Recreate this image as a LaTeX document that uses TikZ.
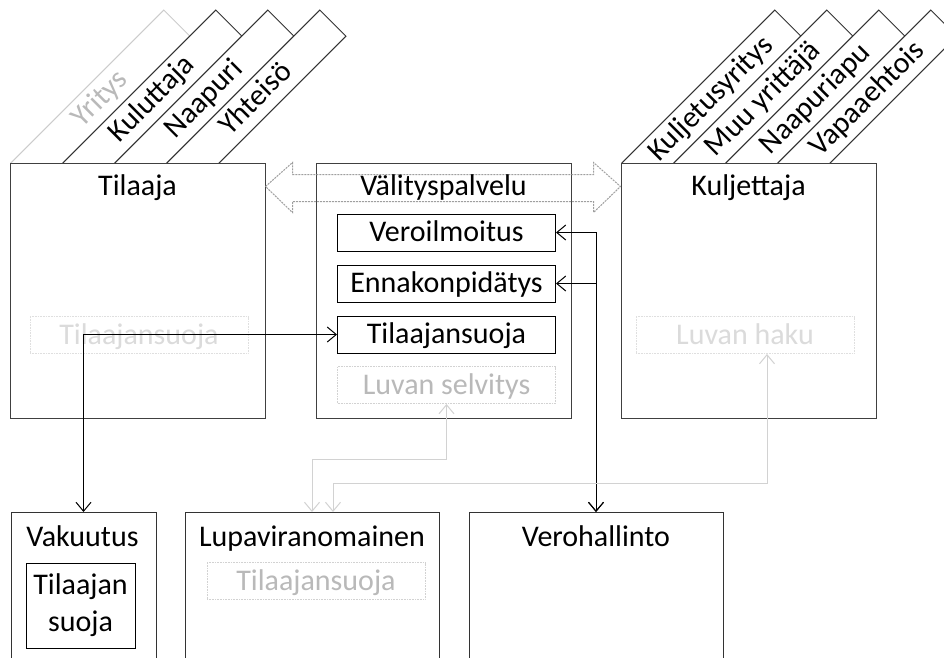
\documentclass[tikz,border=0pt]{standalone}
\usepackage{fontspec}
\setmainfont{Carlito}
\usetikzlibrary{arrows.meta, calc}

\begin{document}
\begin{tikzpicture}[
    x=1pt, y=-1pt,
    >={Straight Barb[length=9pt,width=15pt]},
    font=\fontsize{30}{37}\selectfont,
    bigbox/.style={draw=black!75, line width=1pt, fill=white, minimum width=255pt, minimum height=255pt},
    basebox/.style={draw=black!80, line width=1pt, fill=white, minimum width=#1, minimum height=170pt, anchor=north},
    title/.style={anchor=base, inner sep=0pt},
    boxline/.style={draw, line width=1pt, inner sep=0pt},
    subbox/.style={boxline, minimum width=218pt, minimum height=37pt, text height=22pt, text depth=4pt},
    fadebox/.style={subbox, draw=gray!25, dash pattern=on 1pt off 0.6pt, text=gray!28},
    ghostbox/.style={subbox, draw=gray!35, dash pattern=on 1pt off 0.6pt, text=gray!55},
    tabbox/.style={draw=black!80, line width=1pt, fill=white, rotate=45, minimum width=216pt, minimum height=37pt, inner sep=0pt, font=\fontsize{30}{32}\selectfont, text height=20pt, text depth=5pt},
    link/.style={draw=gray!75, line width=1pt, dash pattern=on 2pt off 1pt},
    arr/.style={<->, line width=1pt},
    grayarr/.style={<->, line width=1pt, gray!35}
]
\useasboundingbox (0,0) rectangle (944,657);
\clip (0,0) rectangle (944,657);

\node[tabbox, draw=gray!40, text=gray!55] (yritys) at (100.5,99.5) {Yritys};
\node[tabbox] (kuluttaja) at (152.5,99.5) {Kuluttaja};
\node[tabbox] (naapuri) at (204.5,99.5) {Naapuri};
\node[tabbox] (yhteiso) at (256.5,99.5) {Yhteisö};

\node[tabbox] (kuljetusyritys) at (711.5,99.5) {Kuljetusyritys};
\node[tabbox] (muuyrittaja) at (763.5,99.5) {Muu yrittäjä};
\node[tabbox] (naapuriapu) at (815.5,99.5) {Naapuriapu};
\node[tabbox] (vapaaehtois) at (867.5,99.5) {Vapaaehtois};

\node[bigbox] (tilaaja) at (137.5,290.5) {};
\node[bigbox] (valitys) at (443.5,290.5) {};
\node[bigbox] (kuljettaja) at (748.5,290.5) {};

\draw[link] ($(tilaaja.north east)+(0,24)$) -- ++(27,-24) -- ++(0,12) -- ($(kuljettaja.north west)+(-27,12)$) -- ++(0,-12) -- ($(kuljettaja.north west)+(0,24)$) -- ++(-27,26) -- ++(0,-11) -- ($(tilaaja.north east)+(27,39)$) -- ++(0,11) -- cycle;

\node[title] (tilaajaT) at (137.5,195) {Tilaaja};
\node[title] (valitysT) at (443.5,195) {Välityspalvelu};
\node[title] (kuljettajaT) at (748.5,195) {Kuljettaja};

\node[fadebox] (tsvTilaaja) at (139,335) {Tilaajansuoja};
\node[subbox] (veroilm) at (446.5,232.5) {Veroilmoitus};
\node[subbox] (ennakko) at (446.5,283.5) {Ennakonpidätys};
\node[subbox] (tsv) at (446.5,334.5) {Tilaajansuoja};
\node[ghostbox] (luvansel) at (446.5,385) {Luvan selvitys};
\node[fadebox] (luvanhaku) at (745,335) {Luvan haku};

\node[basebox=145pt] (vakuutus) at (83.5,512) {};
\node[basebox=254pt] (lupa) at (312,512) {};
\node[basebox=254pt] (verohallinto) at (596,512) {};

\node[title] (vakuutusT) at (82.5,546) {Vakuutus};
\node[title] (lupaT) at (312,546) {Lupaviranomainen};
\node[title] (verohallintoT) at (596,546) {Verohallinto};

\node[boxline, minimum width=109pt, minimum height=85pt, align=center] (vakSuoja) at (80.5,605.5) {Tilaajan\\suoja};
\node[ghostbox] (lupaSuoja) at (316,581) {Tilaajansuoja};

\draw[arr] (tsv.west) -| (vakuutus.north);
\draw[arr] (verohallinto.north) |- (veroilm.east);
\draw[arr] (verohallinto.north) |- (ennakko.east);
\draw[grayarr] (luvansel.south) -- ++(0,55) -| (lupa.north);
\draw[grayarr] ([xshift=22pt]luvanhaku.south) -- ++(0,129) -| ([xshift=21pt]lupa.north);

\end{tikzpicture}
\end{document}
